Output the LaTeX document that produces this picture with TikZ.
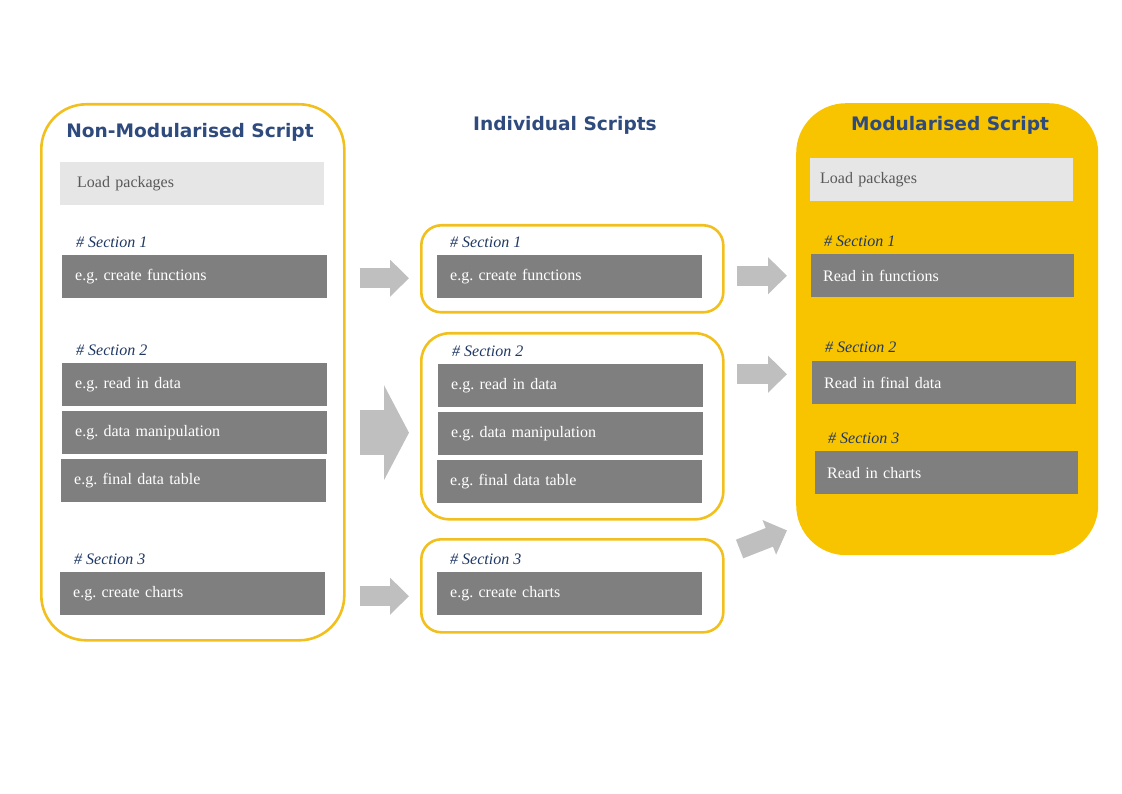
\documentclass[tikz,border=0pt]{standalone}
\usepackage{fontspec}
\setmainfont{Liberation Serif}
\newfontfamily\headfont{DejaVu Sans}
\usepackage{tikz}
\usetikzlibrary{arrows.meta,positioning}
\frenchspacing
\definecolor{boxYellow}{RGB}{242,192,30}
\definecolor{fillYellow}{RGB}{248,196,0}
\definecolor{headBlue}{RGB}{47,75,125}
\definecolor{secBlue}{RGB}{31,56,100}
\definecolor{barGray}{RGB}{127,127,127}
\definecolor{loadGray}{RGB}{230,230,230}
\definecolor{loadText}{RGB}{89,89,89}
\definecolor{arrGray}{RGB}{191,191,191}
\tikzstyle{scriptbox}=[rectangle,draw=boxYellow,line width=2.6pt,anchor=north west,inner sep=0pt]
\tikzstyle{title}=[font=\headfont\bfseries\fontsize{18.6}{22}\selectfont,text=headBlue]
\tikzstyle{load}=[rectangle,fill=loadGray,text=loadText,anchor=north west,inner xsep=17pt,inner ysep=0pt,
  minimum height=43pt,text width=230pt,align=left,font=\fontsize{16}{19}\selectfont]
\tikzstyle{bar}=[rectangle,fill=barGray,text=white,anchor=north west,inner xsep=13pt,inner ysep=0pt,
  minimum height=43pt,text width=239pt,align=left,font=\fontsize{16}{19}\selectfont]
\tikzstyle{sec}=[anchor=west,inner sep=0pt,text=secBlue,font=\itshape\fontsize{16}{18}\selectfont]
\tikzstyle{flow}=[draw=arrGray,line width=20pt,-{Triangle[length=19pt,width=36pt]}]
\tikzstyle{bigflow}=[draw=arrGray,line width=45pt,-{Triangle[length=25pt,width=94pt]}]

\begin{document}
\begin{tikzpicture}[x=1pt,y=-1pt]
\useasboundingbox (0,0) rectangle (1122,794);
% non-modularised
\node[scriptbox,rounded corners=45pt,minimum width=303pt,minimum height=536pt] (nm) at (40,103) {};
\node[title] (nmt) at (190,132) {Non-Modularised Script};
\node[load] (nml) at (60,162) {Load packages};
\node[sec] (nms1) at (76,242) {\# Section 1};
\node[bar] (nm1) at (62,255) {e.g. create functions};
\node[sec] (nms2) at (76,350) {\# Section 2};
\node[bar] (nm2a) at (62,363) {e.g. read in data};
\node[bar] (nm2b) at (62,411) {e.g. data manipulation};
\node[bar] (nm2c) at (61,459) {e.g. final data table};
\node[sec] (nms3) at (74,559) {\# Section 3};
\node[bar] (nm3) at (60,572) {e.g. create charts};
% individual
\node[title] (indt) at (565,125) {Individual Scripts};
\node[scriptbox,rounded corners=20pt,minimum width=302pt,minimum height=87pt] (ind1) at (420,224) {};
\node[sec] (inds1) at (450,242) {\# Section 1};
\node[bar] (in1) at (437,255) {e.g. create functions};
\node[scriptbox,rounded corners=28pt,minimum width=302pt,minimum height=186pt] (ind2) at (420,332) {};
\node[sec] (inds2) at (452,351) {\# Section 2};
\node[bar] (in2a) at (438,364) {e.g. read in data};
\node[bar] (in2b) at (438,412) {e.g. data manipulation};
\node[bar] (in2c) at (437,460) {e.g. final data table};
\node[scriptbox,rounded corners=20pt,minimum width=302pt,minimum height=93pt] (ind3) at (420,538) {};
\node[sec] (inds3) at (450,559) {\# Section 3};
\node[bar] (in3) at (437,572) {e.g. create charts};
% modularised
\node[rectangle,fill=fillYellow,rounded corners=50pt,anchor=north west,inner sep=0pt,
  minimum width=302pt,minimum height=452pt] (mod) at (796,103) {};
\node[title] (modt) at (950,125) {Modularised Script};
\node[load,inner xsep=10pt,text width=243pt] (modl) at (810,158) {Load packages};
\node[sec] (mods1) at (824,241) {\# Section 1};
\node[bar,inner xsep=12pt,text width=239pt] (md1) at (811,254) {Read in functions};
\node[sec] (mods2) at (825,347) {\# Section 2};
\node[bar,inner xsep=12pt,text width=240pt] (md2) at (812,361) {Read in final data};
\node[sec] (mods3) at (828,438) {\# Section 3};
\node[bar,inner xsep=12pt,text width=239pt] (md3) at (815,451) {Read in charts};
% arrows
\draw[flow,shorten <=14pt,shorten >=11pt] ([yshift=-1.5pt]nm.east |- nm1) -- ([yshift=-1.5pt]ind1.west |- nm1);
\draw[bigflow,shorten <=14pt,shorten >=11pt] (nm.east |- nm2b) -- (ind2.west |- nm2b);
\draw[flow,shorten <=14pt,shorten >=11pt] ([yshift=-2.5pt]nm.east |- nm3) -- ([yshift=-2.5pt]ind3.west |- nm3);
\draw[flow,shorten <=12pt,shorten >=9pt] (ind1.east |- md1) -- (mod.west |- md1);
\draw[flow,shorten <=12pt,shorten >=9pt] ([yshift=8.5pt]ind2.east |- md2) -- ([yshift=8.5pt]mod.west |- md2);
\draw[flow] ([shift={(15pt,-11pt)}]ind3.north east) -- ([shift={(-9pt,25pt)}]mod.south west);
\end{tikzpicture}
\end{document}
